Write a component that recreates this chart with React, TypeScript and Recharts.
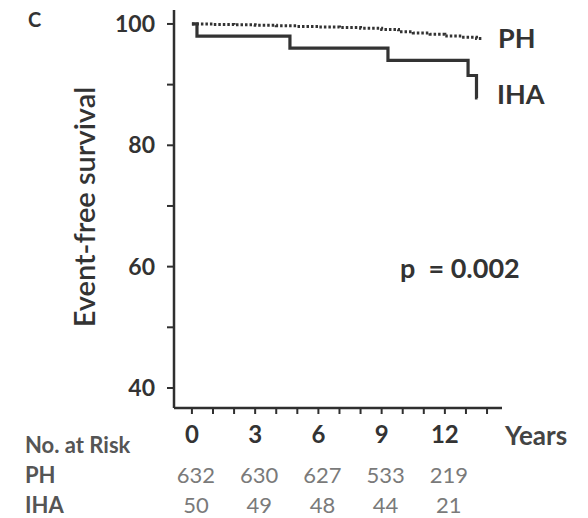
import React from "react";
import { LineChart, Line, XAxis, YAxis } from "recharts";

const xTicks = [0, 1, 2, 3, 4, 5, 6, 7, 8, 9, 10, 11, 12, 13, 14];
const xLabelTicks = [0, 3, 6, 9, 12];
const yTicks = [40, 50, 60, 70, 80, 90, 100];
const yLabelTicks = [40, 60, 80, 100];

const phRisk = [632, 630, 627, 533, 219];
const ihaRisk = [50, 49, 48, 44, 21];

const phTimes = [0, 1, 2, 3, 4, 5, 6, 7, 8, 9, 9.8, 10.5, 11.3, 12, 12.8, 13.5, 13.8];
const phValues = [100, 99.9, 99.85, 99.8, 99.7, 99.6, 99.5, 99.4, 99.3, 99.1, 98.7, 98.5, 98.3, 98.0, 97.8, 97.6, 97.5];

const ihaTimes = [0, 0.24, 4.65, 9.3, 13.1, 13.5, 13.55];
const ihaValues = [100, 98, 96, 94, 91.5, 87.8, 87.8];

const phData = phTimes.map((t, i) => ({ t, v: phValues[i] }));
const ihaData = ihaTimes.map((t, i) => ({ t, v: ihaValues[i] }));

const FONT = "Lato, 'Open Sans', sans-serif";
const AX = "#2f2f2f";

const XTick = (props: any) => {
  const { x, y, payload } = props;
  const v = payload.value;
  const idx = xLabelTicks.indexOf(v);
  if (idx < 0) return <g />;
  return (
    <g>
      <text x={x} y={y + 27} textAnchor="middle" fontFamily={FONT} fontWeight={700} fontSize={24} fill="#333">
        {v}
      </text>
      <text x={x + 4} y={y + 67} textAnchor="middle" fontFamily={FONT} fontSize={22} fill="#7a7a7a">
        {phRisk[idx]}
      </text>
      <text x={x + 4} y={y + 97} textAnchor="middle" fontFamily={FONT} fontSize={22} fill="#7a7a7a">
        {ihaRisk[idx]}
      </text>
    </g>
  );
};

const YTick = (props: any) => {
  const { x, y, payload } = props;
  const v = payload.value;
  if (yLabelTicks.indexOf(v) < 0) return <g />;
  return (
    <text x={x - 10} y={y + 8} textAnchor="end" fontFamily={FONT} fontWeight={700} fontSize={23} fill="#333">
      {v}
    </text>
  );
};

export default function App() {
  return (
    <div style={{ position: "absolute", left: 0, top: 0, width: 588, height: 518, background: "#fff" }}>
      <LineChart width={588} height={518} margin={{ top: 10, right: 86, bottom: 80, left: 0 }}>
        <XAxis
          type="number"
          dataKey="t"
          domain={[-0.85, 14.71]}
          ticks={xTicks}
          interval={0}
          allowDataOverflow
          height={30}
          tickSize={6}
          tickMargin={2}
          stroke={AX}
          axisLine={{ stroke: AX, strokeWidth: 2.5 }}
          tickLine={{ stroke: AX, strokeWidth: 2 }}
          tick={<XTick />}
        />
        <YAxis
          type="number"
          dataKey="v"
          domain={[36.7, 102.3]}
          ticks={yTicks}
          interval={0}
          allowDataOverflow
          width={174}
          tickSize={7}
          stroke={AX}
          axisLine={{ stroke: AX, strokeWidth: 2.5 }}
          tickLine={{ stroke: AX, strokeWidth: 2 }}
          tick={<YTick />}
        />
        <Line
          data={phData}
          dataKey="v"
          type="stepAfter"
          stroke="#333"
          strokeWidth={3}
          strokeDasharray="2.5 2"
          dot={false}
          isAnimationActive={false}
        />
        <Line
          data={ihaData}
          dataKey="v"
          type="stepAfter"
          stroke="#333"
          strokeWidth={3.2}
          dot={false}
          isAnimationActive={false}
        />
      </LineChart>
      <svg width={588} height={518} style={{ position: "absolute", left: 0, top: 0, pointerEvents: "none" }}>
        <text x={28} y={27} fontFamily={FONT} fontWeight={700} fontSize={20} fill="#333">C</text>
        <text
          x={0}
          y={0}
          transform="translate(95,207) rotate(-90)"
          textAnchor="middle"
          fontFamily={FONT}
          fontWeight={600}
          fontSize={29}
          fill="#333"
        >
          Event-free survival
        </text>
        <text x={498} y={48} fontFamily={FONT} fontWeight={700} fontSize={27} fill="#333">PH</text>
        <text x={497} y={104} fontFamily={FONT} fontWeight={700} fontSize={27} fill="#333">IHA</text>
        <text x={400} y={278} fontFamily={FONT} fontWeight={700} fontSize={27} fill="#333" style={{ whiteSpace: "pre" }}>
          {"p  = 0.002"}
        </text>
        <text x={505} y={445} fontFamily={FONT} fontWeight={700} fontSize={26} fill="#444">Years</text>
        <text x={25} y={453} fontFamily={FONT} fontWeight={700} fontSize={22} fill="#555">No. at Risk</text>
        <text x={25} y={483} fontFamily={FONT} fontWeight={700} fontSize={22} fill="#555">PH</text>
        <text x={25} y={513} fontFamily={FONT} fontWeight={700} fontSize={22} fill="#555">IHA</text>
      </svg>
    </div>
  );
}
